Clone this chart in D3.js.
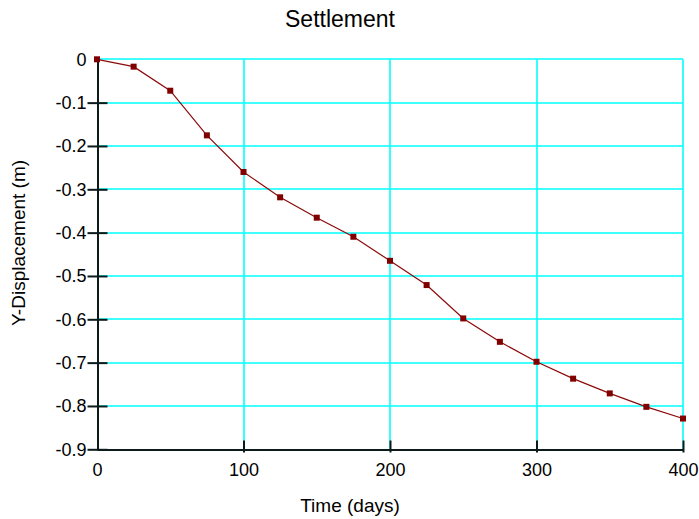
<!DOCTYPE html>
<html>
<head>
<meta charset="utf-8">
<script src="https://cdn.jsdelivr.net/npm/d3@7"></script>
<style>
  html, body { margin: 0; padding: 0; background: #fff; }
  svg { display: block; font-family: "Liberation Sans", Arial, sans-serif; }
</style>
</head>
<body>
<svg id="chart" width="699" height="519"></svg>
<script>
const days = [0, 25, 50, 75, 100, 125, 150, 175, 200, 225, 250, 275, 300, 325, 350, 375, 400];
const displacement = [0, -0.017, -0.0725, -0.1755, -0.26, -0.3185, -0.3655, -0.4095, -0.465, -0.521, -0.598, -0.652, -0.698, -0.737, -0.771, -0.802, -0.829];
const xTicks = [0, 100, 200, 300, 400];
const yTicks = [0, -0.1, -0.2, -0.3, -0.4, -0.5, -0.6, -0.7, -0.8, -0.9];
const chartTitle = "Settlement";
const xTitle = "Time (days)";
const yTitle = "Y-Displacement (m)";

const svg = d3.select("#chart");
const pL = 97, pR = 683, pT = 59.3, pB = 449.3;
const x = d3.scaleLinear().domain([0, 400]).range([pL, pR]);
const y = d3.scaleLinear().domain([-0.9, 0]).range([pB, pT]);
const gridColor = "#00ffff";
const axisColor = "#0d1a1a";
const fontFam = "Liberation Sans, Arial, sans-serif";

// grid (2px footprint so the cyan survives image compression)
svg.append("g")
  .selectAll("line").data(yTicks.filter(d => d > -0.9)).join("line")
  .attr("x1", pL).attr("x2", pR)
  .attr("y1", d => Math.round(y(d))).attr("y2", d => Math.round(y(d)))
  .attr("stroke", gridColor).attr("stroke-width", 1.6);
svg.append("g")
  .selectAll("line").data(xTicks.filter(d => d > 0)).join("line")
  .attr("y1", pT).attr("y2", pB)
  .attr("x1", d => Math.round(x(d))).attr("x2", d => Math.round(x(d)))
  .attr("stroke", gridColor).attr("stroke-width", 1.6);

// axes
const yAxis = d3.axisLeft(y).tickValues(yTicks).tickSize(0).tickPadding(11)
  .tickFormat(d => d === 0 ? "0" : d3.format(".1f")(d).replace("−", "-"));
const gy = svg.append("g").attr("transform", `translate(${Math.round(pL) + 0.5},0)`).call(yAxis);
gy.select(".domain").attr("stroke", axisColor).attr("stroke-width", 2);
gy.selectAll(".tick text").attr("fill", "#000").attr("font-size", 18).attr("font-family", fontFam);
gy.selectAll(".tick").filter(d => d !== 0).append("line")
  .attr("x1", -10).attr("x2", 10).attr("stroke", axisColor).attr("stroke-width", 2);

const xAxis = d3.axisBottom(x).tickValues(xTicks).tickSize(0).tickPadding(14).tickFormat(d3.format("d"));
const gx = svg.append("g").attr("transform", `translate(0,${Math.round(pB) + 0.5})`).call(xAxis);
gx.select(".domain").attr("stroke", axisColor).attr("stroke-width", 2);
gx.selectAll(".tick text").attr("fill", "#000").attr("font-size", 18).attr("font-family", fontFam);
gx.selectAll(".tick").filter(d => d !== 0).append("line")
  .attr("y1", -9).attr("y2", 3).attr("stroke", axisColor).attr("stroke-width", 2);

// line
const pts = days.map((d, i) => [d, displacement[i]]);
svg.append("path").datum(pts)
  .attr("fill", "none").attr("stroke", "#8b0a0a").attr("stroke-width", 1.2)
  .attr("d", d3.line().x(d => x(d[0])).y(d => y(d[1])));
svg.append("g").selectAll("rect").data(pts).join("rect")
  .attr("x", d => x(d[0]) - 3).attr("y", d => y(d[1]) - 3)
  .attr("width", 6).attr("height", 6).attr("fill", "#800000");

// titles
svg.append("text").attr("x", 340).attr("y", 27).attr("text-anchor", "middle")
  .attr("font-size", 23).attr("fill", "#000").text(chartTitle);
svg.append("text").attr("x", 350).attr("y", 512).attr("text-anchor", "middle")
  .attr("font-size", 19).attr("fill", "#000").text(xTitle);
svg.append("text").attr("transform", "translate(25,243) rotate(-90)").attr("text-anchor", "middle")
  .attr("font-size", 19).attr("fill", "#000").text(yTitle);
</script>
</body>
</html>
